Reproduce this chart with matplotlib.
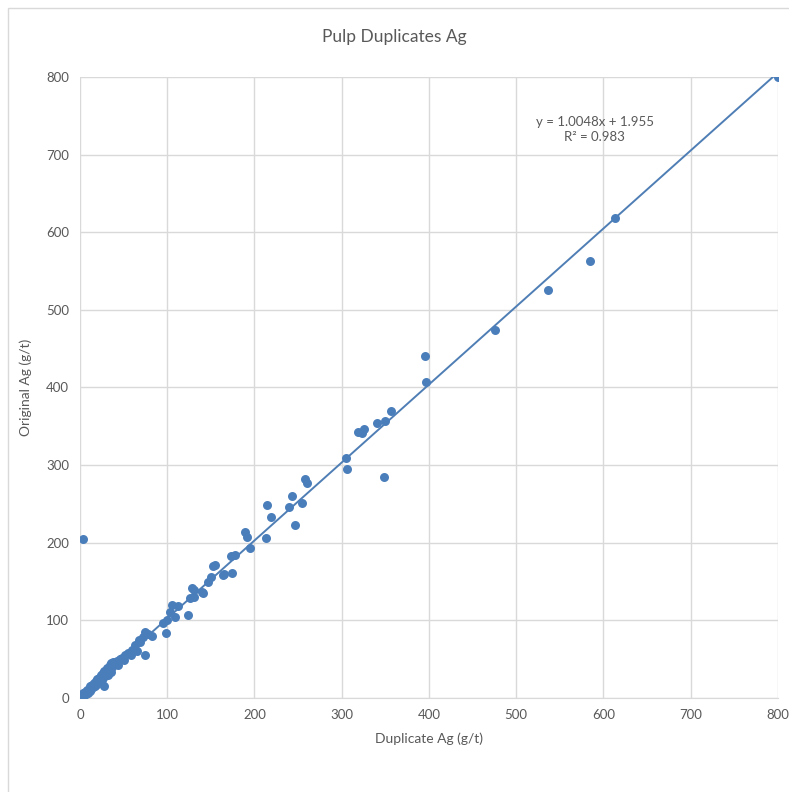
import matplotlib.pyplot as plt
from matplotlib.patches import Rectangle

# duplicate (x) vs original (y) Ag, g/t
dup_ag = [0, 2, 3, 4, 5, 6, 7, 8, 9, 10, 11, 12, 13, 14, 15, 16, 17, 18, 19, 20,
          21, 22, 23, 24, 25, 26, 27, 28, 29, 30, 31, 32, 33, 34, 35, 36, 37, 38,
          40, 42, 44, 46, 48, 50, 52, 55, 58, 60, 63, 65, 68, 69, 72, 74, 74, 78,
          82, 95, 99, 100, 103, 106, 109, 112, 124, 126, 128, 131, 131, 140, 141,
          147, 150, 153, 155, 164, 165, 173, 174, 178, 189, 191, 195, 213, 214,
          219, 239, 243, 247, 254, 258, 260, 305, 306, 319, 323, 326, 340, 348,
          350, 356, 395, 397, 476, 536, 584, 613, 800, 3]
orig_ag = [2, 3, 1, 6, 4, 8, 5, 10, 7, 12, 9, 15, 11, 17, 14, 19, 16, 22, 18, 24,
           20, 26, 25, 30, 23, 32, 15, 35, 28, 33, 38, 30, 36, 42, 34, 45, 40, 47,
           44, 48, 43, 50, 52, 49, 55, 58, 56, 62, 68, 60, 75, 72, 78, 85, 55, 82,
           80, 96, 84, 100, 111, 120, 104, 118, 107, 129, 142, 130, 139, 136, 135,
           150, 156, 170, 171, 158, 160, 183, 161, 184, 214, 208, 193, 206, 249,
           233, 246, 260, 223, 251, 282, 277, 309, 295, 343, 341, 347, 354, 285,
           357, 370, 441, 407, 474, 526, 563, 618, 800, 205]

slope = 1.0048
intercept = 1.955
fit_x = [0, 800]

blue = "#4a7ebb"
grey = "#595959"

fig = plt.figure(figsize=(7.89, 7.92), dpi=100)
plt.rcParams['font.family'] = ['Lato', 'DejaVu Sans']
ax = fig.add_axes([0.1014, 0.1187, 0.8846, 0.7841])

ax.scatter(dup_ag, orig_ag, s=42, color=blue, zorder=3, linewidths=0)
ax.plot(fit_x, [slope * v + intercept for v in fit_x], color="#4f7eb5", lw=1.4, zorder=2)

ax.set_xlim(0, 800)
ax.set_ylim(0, 800)
ax.set_xticks(range(0, 801, 100))
ax.set_yticks(range(0, 801, 100))
ax.grid(True, color="#d9d9d9", lw=1)
ax.set_axisbelow(True)
for s in ["top", "right", "left"]:
    ax.spines[s].set_visible(False)
ax.spines["bottom"].set_color("#d9d9d9")
ax.tick_params(length=0, colors=grey, labelsize=9.5, pad=8)

ax.set_xlabel("Duplicate Ag (g/t)", color=grey, fontsize=10, labelpad=8)
ax.set_ylabel("Original Ag (g/t)", color=grey, fontsize=10, labelpad=10)
fig.text(0.5, 0.953, "Pulp Duplicates Ag", ha="center", va="center",
         color=grey, fontsize=12.5)

ax.text(590, 732, "y = 1.0048x + 1.955\nR² = 0.983", ha="center", va="center",
        color=grey, fontsize=9.5, linespacing=1.3)

fig.patches.append(Rectangle((0.010, -0.01), 1.0, 1.0, transform=fig.transFigure,
                             fill=False, edgecolor="#d9d9d9", lw=1))

fig.savefig("out.png", dpi=100)
